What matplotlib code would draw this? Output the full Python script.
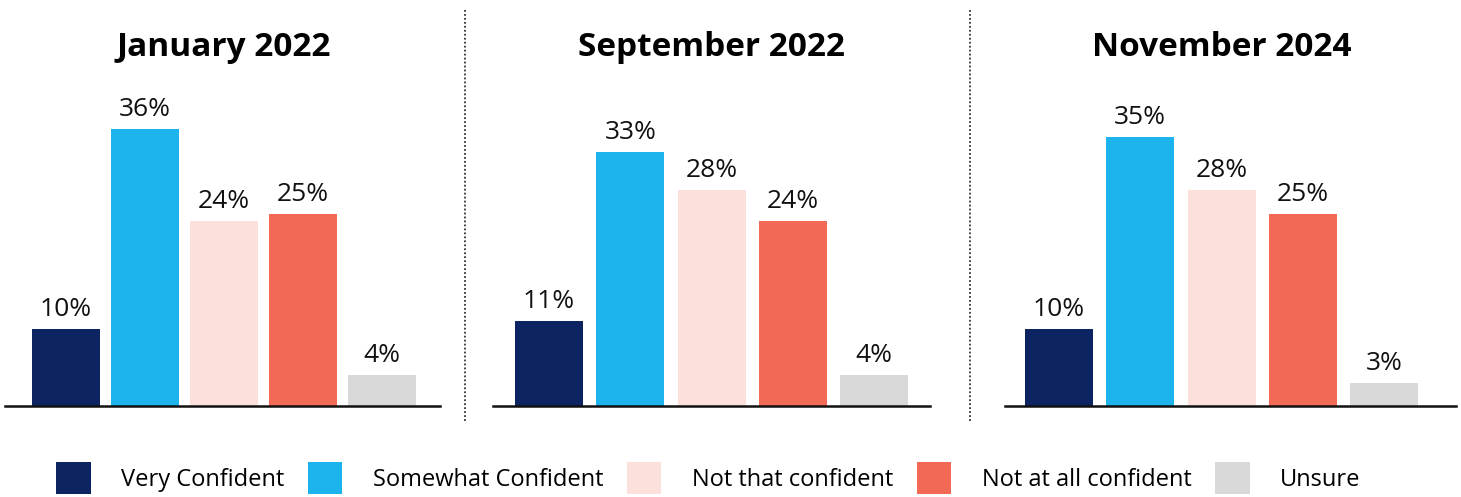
import numpy as np
import matplotlib
matplotlib.use("Agg")
import matplotlib.pyplot as plt
from matplotlib.patches import Patch
from matplotlib.lines import Line2D

plt.rcParams['font.family'] = ['Open Sans', 'DejaVu Sans']

# dados
categorias = ["Very Confident", "Somewhat Confident", "Not that confident",
              "Not at all confident", "Unsure"]
cores = ["#0c2461", "#1db3ec", "#fce0dc", "#f26a55", "#d9d9d9"]
periodos = ["January 2022", "September 2022", "November 2024"]
jan_2022 = [10, 36, 24, 25, 4]
set_2022 = [11, 33, 28, 24, 4]
nov_2024 = [10, 35, 28, 25, 3]
valores = [jan_2022, set_2022, nov_2024]

W, H = 1461, 497
fig = plt.figure(figsize=(W / 100, H / 100), dpi=100)

# posicao dos paineis em pixels: (esquerda, direita, centro da 1a barra, espacamento)
paineis = [(5, 440, 66, 79), (493, 930, 549, 81.25), (1005, 1456, 1059, 81.25)]
base_y, topo_y = 406, 75
px_por_pct = 7.7

for (esq, dir_, c0, esp), titulo, vals in zip(paineis, periodos, valores):
    ax = fig.add_axes([esq / W, 1 - base_y / H, (dir_ - esq) / W, (base_y - topo_y) / H])
    x = np.arange(len(vals))
    ax.bar(x, vals, width=68 / esp, color=cores)
    ax.set_xlim(-(c0 - esq) / esp, 4 + (dir_ - (c0 + 4 * esp)) / esp)
    ax.set_ylim(0, (base_y - topo_y) / px_por_pct)
    for xi, v in zip(x, vals):
        ax.annotate(f"{v}%", (xi, v), xytext=(0, 5), textcoords="offset points",
                    ha="center", va="bottom", fontsize=19, color="#111111")
    for lado in ["top", "right", "left"]:
        ax.spines[lado].set_visible(False)
    ax.spines["bottom"].set_linewidth(1.8)
    ax.spines["bottom"].set_color("#111111")
    ax.set_xticks([])
    ax.set_yticks([])
    ax.patch.set_alpha(0)
    fig.text(((c0 - 34) + (c0 + 4 * esp + 34)) / 2 / W, 1 - 47 / H, titulo,
             ha="center", va="center", fontsize=24, fontweight="bold")

# linhas pontilhadas separando os paineis
for xs in [465, 970]:
    fig.add_artist(Line2D([xs / W, xs / W], [1 - 10 / H, 1 - 422 / H],
                          color="#333333", linestyle=(0, (1, 1.2)), linewidth=1.3))

handles = [Patch(facecolor=c, edgecolor="none") for c in cores]
fig.legend(handles, categorias, loc="center", bbox_to_anchor=(0.485, 1 - 478 / H),
           ncol=5, frameon=False, fontsize=17, handlelength=1.45, handleheight=1.75,
           handletextpad=1.3, columnspacing=1.0)

fig.savefig("out.png", dpi=100)
